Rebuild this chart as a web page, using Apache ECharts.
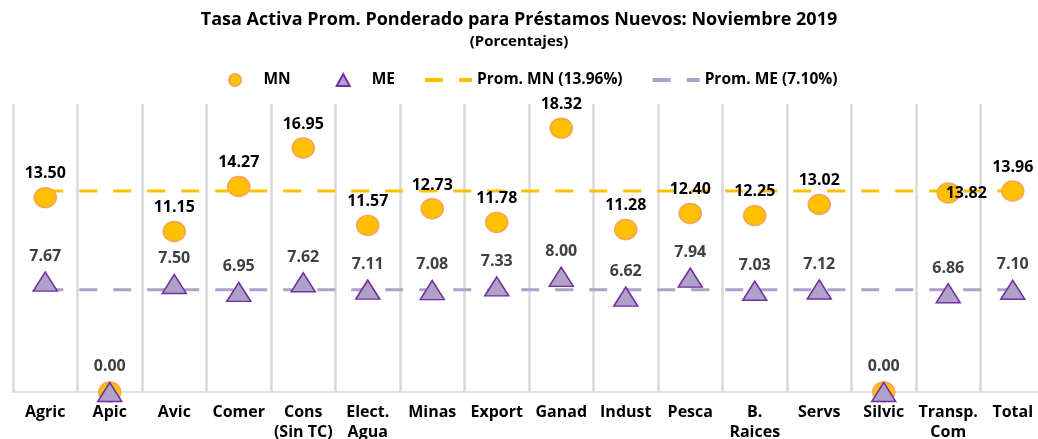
<!DOCTYPE html>
<html>
<head>
<meta charset="utf-8">
<script src="https://cdn.jsdelivr.net/npm/echarts@6/dist/echarts.min.js"></script>
<style>
  html, body { margin: 0; padding: 0; background: #fff; }
  #main { width: 1038px; height: 439px; }
</style>
</head>
<body>
<div id="main"></div>
<script>
const categories = ['Agric', 'Apic', 'Avic', 'Comer', 'Cons\n(Sin TC)', 'Elect.\nAgua', 'Minas', 'Export',
  'Ganad', 'Indust', 'Pesca', 'B.\nRaices', 'Servs', 'Silvic', 'Transp.\nCom', 'Total'];
const mnValues = [13.50, 0.00, 11.15, 14.27, 16.95, 11.57, 12.73, 11.78, 18.32, 11.28, 12.40, 12.25, 13.02, 0.00, 13.82, 13.96];
const meValues = [7.67, 0.00, 7.50, 6.95, 7.62, 7.11, 7.08, 7.33, 8.00, 6.62, 7.94, 7.03, 7.12, 0.00, 6.86, 7.10];
const promMN = 13.96;
const promME = 7.10;

const font = '"Open Sans", sans-serif';
const chart = echarts.init(document.getElementById('main'));

// Transp. Com: etiqueta a la derecha; en los ceros solo se ve la etiqueta de ME
const mnData = mnValues.map((v, i) => {
  if (categories[i].startsWith('Transp')) {
    return { value: v, label: { position: 'inside', offset: [18, 0] } };
  }
  if (v === 0) {
    return { value: v, label: { show: false } };
  }
  return v;
});

// triangulo centrado en un icono de 47x12
const triIcon = 'path://M0,0L0,0M47,12L47,12M17,12L23.5,0L30,12Z';
const dashLine = { width: 4, type: [18, 16] };

chart.setOption({
  animation: false,
  textStyle: { fontFamily: font },
  title: {
    text: 'Tasa Activa Prom. Ponderado para Préstamos Nuevos: Noviembre 2019',
    subtext: '(Porcentajes)',
    left: 'center',
    top: 6,
    itemGap: 5,
    textStyle: { fontFamily: font, fontSize: 18, fontWeight: 'bold', color: '#000' },
    subtextStyle: { fontFamily: font, fontSize: 15, fontWeight: 'bold', color: '#000' }
  },
  legend: {
    top: 67,
    left: 223,
    itemWidth: 47,
    itemHeight: 12,
    itemGap: 28,
    textStyle: { fontFamily: font, fontSize: 15.5, fontWeight: 'bold', color: '#000' },
    data: [
      { name: 'MN', icon: 'circle' },
      { name: 'ME', icon: triIcon },
      { name: 'Prom. MN (13.96%)', lineStyle: dashLine },
      { name: 'Prom. ME (7.10%)', lineStyle: dashLine }
    ]
  },
  grid: { left: 13, right: -7, top: 104, bottom: 47, outerBoundsMode: 'none' },
  xAxis: {
    type: 'category',
    data: categories,
    boundaryGap: true,
    axisLine: { show: true, lineStyle: { color: '#d9d9d9', width: 1.5 } },
    axisTick: { show: false },
    splitLine: { show: true, lineStyle: { color: '#d9d9d9', width: 2.5 } },
    axisLabel: {
      interval: 0,
      margin: 10,
      fontFamily: font,
      fontSize: 16,
      fontWeight: 'bold',
      color: '#000',
      lineHeight: 20
    }
  },
  yAxis: {
    type: 'value',
    min: 0,
    max: 20,
    show: false,
    splitLine: { show: false }
  },
  series: [
    {
      name: 'Prom. MN (13.96%)',
      type: 'line',
      data: categories.map(() => promMN),
      symbol: 'none',
      z: 1,
      lineStyle: { color: '#FFC000', width: 3, type: [18, 16] },
      itemStyle: { color: '#FFC000', opacity: 0 }
    },
    {
      name: 'Prom. ME (7.10%)',
      type: 'line',
      data: categories.map(() => promME),
      symbol: 'none',
      z: 1,
      lineStyle: { color: '#B1A0C7', width: 3, type: [18, 16] },
      itemStyle: { color: '#B1A0C7', opacity: 0 }
    },
    {
      name: 'MN',
      type: 'scatter',
      data: mnData,
      symbol: 'circle',
      symbolSize: [22, 20],
      z: 3,
      itemStyle: { color: '#FFC000', borderColor: '#F4A460', borderWidth: 1.5, opacity: 1 },
      label: {
        show: true,
        position: 'top',
        distance: 5,
        formatter: p => p.value.toFixed(2),
        fontFamily: font,
        fontSize: 16,
        fontWeight: 'bold',
        color: '#000'
      }
    },
    {
      name: 'ME',
      type: 'scatter',
      data: meValues,
      symbol: 'triangle',
      symbolSize: [24, 19],
      z: 4,
      itemStyle: { color: '#B1A0C7', borderColor: '#7030A0', borderWidth: 1.5, opacity: 1 },
      label: {
        show: true,
        position: 'top',
        distance: 7,
        formatter: p => p.value.toFixed(2),
        fontFamily: font,
        fontSize: 16,
        fontWeight: 'bold',
        color: '#404040'
      }
    }
  ]
});
</script>
</body>
</html>
